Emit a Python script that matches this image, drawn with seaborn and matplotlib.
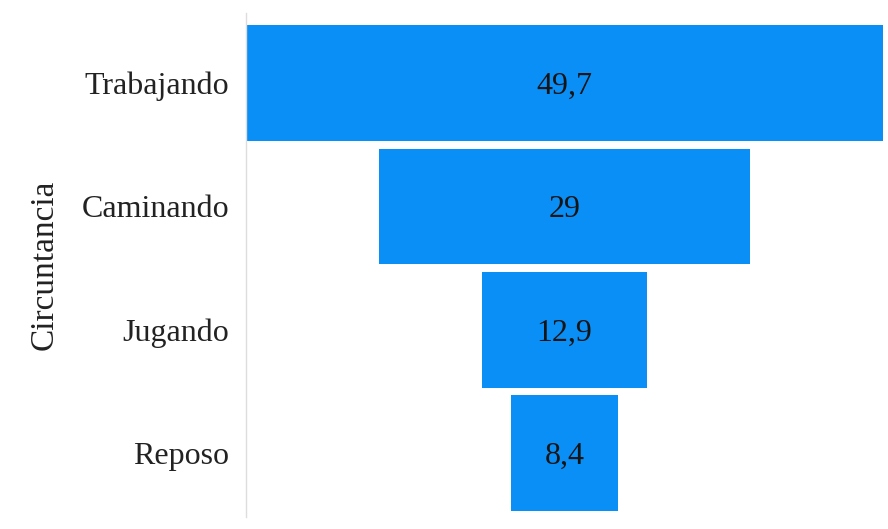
import pandas as pd
import seaborn as sns
import matplotlib.pyplot as plt

# data
circunstancias = ["Trabajando", "Caminando", "Jugando", "Reposo"]
valores = [49.7, 29, 12.9, 8.4]
etiquetas = ["49,7", "29", "12,9", "8,4"]

df = pd.DataFrame({"Circuntancia": circunstancias, "valor": valores})

sns.set_theme(style="white")
plt.rcParams["font.family"] = ["Liberation Serif", "DejaVu Serif"]

fig = plt.figure(figsize=(8.88, 5.29), dpi=100)
ax = fig.add_axes([246 / 888, 1 - 517 / 529, (883 - 246) / 888, (517 - 13) / 529])

sns.barplot(data=df, x="valor", y="Circuntancia", color="#0a8ff7",
            saturation=1, width=0.94, ax=ax)

# centre the bars to make a funnel
tope = max(valores)
for p, v in zip(ax.patches, valores):
    p.set_x((tope - v) / 2)
    p.set_linewidth(0)

for i, txt in enumerate(etiquetas):
    ax.text(tope / 2, i, txt, ha="center", va="center_baseline",
            fontsize=23, color="#151515")

ax.set_xlim(0, tope)
ax.set_ylim(3.52, -0.57)
ax.set_xticks([])
ax.set_xlabel("")
ax.set_ylabel("Circuntancia", fontsize=24, color="#222222", labelpad=16)
ax.tick_params(axis="y", labelsize=23, length=0, pad=12, labelcolor="#222222")

for s in ["top", "right", "bottom"]:
    ax.spines[s].set_visible(False)
ax.spines["left"].set_color("#dddddd")
ax.spines["left"].set_linewidth(1)

fig.savefig("out.png", dpi=100)
